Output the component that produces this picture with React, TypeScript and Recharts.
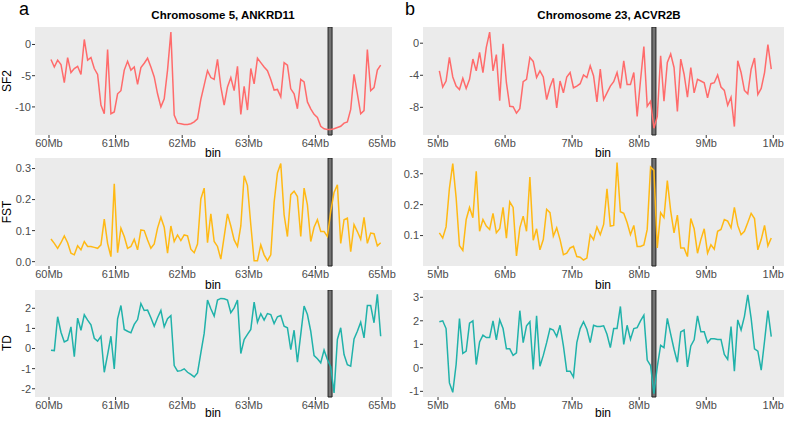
import { CartesianGrid, Line, LineChart, ReferenceArea, XAxis, YAxis } from "recharts";

// bins are 50 kb windows
const binStep = 0.05;
const leftStart = 60.03;
const rightStart = 5.02;

const leftSF2 = [
  -2.4, -3.6, -2.5, -3.2, -6.1, -2.1, -4.5, -3.85, -3.5, -4.8,
  0.8, -2.5, -2.1, -3.85, -4.8, -9.7, -11.1, -0.8, -11.1, -10.8,
  -7.9, -7.4, -4.1, -2.7, -4.1, -3.6, -6.4, -3.7, -3.0, -2.2,
  -3.6, -5.2, -7.9, -10.0, -8.7, -4.1, 2.0, -11.3, -12.6, -12.7,
  -12.8, -12.8, -12.7, -12.4, -11.9, -8.8, -6.5, -4.2, -5.3, -5.6,
  -2.4, -6.8, -9.7, -6.8, -5.3, -7.4, -3.5, -11.2, -6.7, -10.5,
  -3.85, -6.3, -2.2, -2.9, -3.6, -4.2, -5.6, -7.3, -7.2, -8.4,
  -2.9, -3.3, -7.1, -7.9, -10.3, -5.6, -6.0, -9.2, -10.3, -11.2,
  -11.7, -13.1, -13.5, -13.6, -13.6, -13.5, -13.3, -13.1, -12.6, -12.4,
  -10.4, -4.8, -7.9, -11.1, -10.6, -0.8, -7.4, -6.9, -4.1, -3.3,
];

const leftFST = [
  0.073, 0.059, 0.043, 0.061, 0.083, 0.061, 0.027, 0.022, 0.051, 0.038,
  0.065, 0.049, 0.049, 0.046, 0.043, 0.054, 0.137, 0.059, 0.016, 0.251,
  0.029, 0.108, 0.081, 0.043, 0.049, 0.072, 0.038, 0.102, 0.1, 0.07,
  0.043, 0.057, 0.108, 0.143, 0.111, 0.027, 0.115, 0.065, 0.086, 0.068,
  0.086, 0.083, 0.04, 0.029, 0.057, 0.202, 0.237, 0.061, 0.154, 0.065,
  0.049, 0.008, 0.081, 0.154, 0.115, 0.07, 0.049, 0.115, 0.277, 0.245,
  0.119, 0.003, 0.003, 0.054, 0.022, 0.003, 0.022, 0.191, 0.286, 0.316,
  0.151, 0.081, 0.216, 0.227, 0.21, 0.081, 0.237, 0.183, 0.065, 0.111,
  0.135, 0.097, 0.097, 0.081, 0.162, 0.223, 0.248, 0.059, 0.135, 0.14,
  0.032, 0.119, 0.097, 0.072, 0.143, 0.059, 0.092, 0.09, 0.051, 0.061,
];

const leftTD = [
  -0.08, -0.1, 1.58, 0.81, 0.33, 0.41, 1.08, -0.41, 1.51, 0.91,
  1.68, 1.41, 1.18, 0.51, 0.37, 0.61, -1.18, -0.3, 0.61, -1.01,
  1.48, 2.14, 0.95, 0.86, 0.78, 1.2, 1.44, 2.24, 1.89, 1.91,
  1.53, 1.11, 1.53, 1.89, 1.08, 1.48, 1.64, -0.85, -1.13, -1.1,
  -1.01, -1.18, -1.29, -1.41, -1.21, -0.22, 0.75, 2.41, 1.98, 1.61,
  2.41, 2.49, 2.47, 2.41, 1.78, 2.02, 2.41, -0.25, 0.45, 0.7,
  0.95, 2.31, 1.31, 1.73, 1.41, 1.74, 1.69, 1.24, 1.58, 1.64,
  1.11, 1.03, -0.05, 0.91, -0.68, 0.7, 2.11, 1.69, 0.86, -0.35,
  -0.51, -0.71, -0.08, -0.55, -0.91, -2.21, 0.45, 1.03, -0.3, -0.8,
  -0.88, 0.48, 0.86, 1.31, 0.53, 2.14, 2.14, 1.28, 2.69, 0.61,
];

const rightSF2 = [
  -3.45, -5.47, -4.72, -1.77, -4.21, -5.35, -5.77, -4.38, -5.64, -4.51,
  -1.98, -3.45, -1.14, -3.66, -0.51, 1.39, -3.45, -1.43, -7.16, -0.08,
  -4.93, -7.87, -7.92, -8.72, -8.17, -4.8, -4.51, -1.77, -2.27, -4.29,
  -3.45, -4.21, -7.03, -5.47, -4.38, -8.08, -4.72, -6.19, -4.21, -3.66,
  -5.56, -5.35, -5.05, -3.96, -4.29, -2.82, -4.08, -7.33, -3.24, -7.03,
  -6.19, -5.35, -4.8, -3.66, -5.64, -2.19, -5.14, -5.14, -3.66, -9.14,
  -4.63, -0.42, -7.87, -7.24, -10.6, -9.14, -1.56, -7.24, -2.4, -1.35,
  -3.03, -8.51, -1.98, -3.87, -6.74, -3.03, -6.19, -4.51, -4.72, -4.93,
  -6.82, -5.05, -4.93, -3.96, -5.47, -5.89, -7.75, -6.74, -10.4, -2.19,
  -3.66, -5.89, -6.32, -3.24, -1.85, -6.4, -5.64, -3.66, -0.17, -3.24,
];

const rightFST = [
  0.109, 0.092, 0.128, 0.253, 0.333, 0.223, 0.067, 0.052, 0.152, 0.191,
  0.158, 0.308, 0.114, 0.152, 0.131, 0.12, 0.172, 0.109, 0.122, 0.191,
  0.092, 0.209, 0.191, 0.034, 0.125, 0.163, 0.114, 0.289, 0.085, 0.122,
  0.054, 0.087, 0.185, 0.174, 0.098, 0.125, 0.087, 0.038, 0.043, 0.06,
  0.065, 0.032, 0.03, 0.021, 0.027, 0.103, 0.087, 0.128, 0.103, 0.136,
  0.251, 0.131, 0.133, 0.336, 0.177, 0.172, 0.142, 0.103, 0.133, 0.065,
  0.065, 0.07, 0.12, 0.322, 0.311, 0.06, 0.174, 0.158, 0.278, 0.18,
  0.109, 0.166, 0.06, 0.06, 0.032, 0.155, 0.122, 0.043, 0.087, 0.122,
  0.043, 0.07, 0.056, 0.114, 0.12, 0.152, 0.147, 0.125, 0.191, 0.133,
  0.103, 0.114, 0.142, 0.172, 0.155, 0.054, 0.087, 0.133, 0.067, 0.092,
];

const rightTD = [
  1.96, 2.0, 1.67, -0.64, -1.04, 0.14, 2.1, 0.61, 0.71, 1.9,
  2.0, 0.14, 1.1, 1.39, 1.29, 1.29, 2.0, 1.19, 2.04, 1.67,
  0.81, 0.81, 0.53, 0.64, 2.43, 1.07, 1.79, 1.96, -0.07, 2.21,
  0.07, 0.53, 1.07, 1.67, 1.61, 1.33, 1.81, 0.93, -0.14, -0.14,
  -0.39, 1.07, 1.67, 1.96, 1.64, 1.07, 1.81, 1.76, 1.76, 1.79,
  1.43, 0.86, 1.67, 1.67, 2.61, 1.0, 1.81, 1.21, 1.67, 1.71,
  2.0, 2.24, 0.33, 0.1, -1.1, 0.04, 0.96, 0.86, 2.1, 1.43,
  0.79, 0.24, 1.53, 1.61, 0.04, 0.93, 1.19, 2.21, 1.53, 1.53,
  1.07, 1.24, 1.24, 1.21, 1.21, 0.57, 0.36, 1.76, -0.14, 2.04,
  1.61, 2.19, 3.1, 2.1, 0.81, 0.71, -0.1, 1.14, 2.43, 1.33,
];

const leftTicks = [60, 61, 62, 63, 64, 65];
const leftTickLabels = ["60Mb", "61Mb", "62Mb", "63Mb", "64Mb", "65Mb"];
const rightTicks = [5, 6, 7, 8, 9, 10];
const rightTickLabels = ["5Mb", "6Mb", "7Mb", "8Mb", "9Mb", "1Mb"];

const leftMarker = [64.19, 64.25];
const rightMarker = [8.19, 8.25];

const RED = "#FF6B6B";
const AMBER = "#FFB914";
const TEAL = "#20B2AA";
const FONT = "'Liberation Sans', Arial, sans-serif";

function toRows(start: number, values: number[]) {
  return values.map((v, i) => ({ pos: start + i * binStep, v }));
}

interface PanelProps {
  left: number;
  top: number;
  width: number;
  plotHeight: number;
  yWidth: number;
  rightPad: number;
  values: number[];
  start: number;
  color: string;
  xDomain: [number, number];
  xTicks: number[];
  xLabels: string[];
  yDomain: [number, number];
  yTicks: number[];
  yFmt?: (v: number) => string;
  marker: number[];
}

function Panel(p: PanelProps) {
  const tickStyle = { fill: "#4D4D4D", fontSize: 11, fontFamily: FONT };
  return (
    <div style={{ position: "absolute", left: p.left, top: p.top }}>
      <LineChart
        width={p.width}
        height={p.plotHeight + 22}
        data={toRows(p.start, p.values)}
        margin={{ top: 0, right: p.rightPad, bottom: 0, left: 0 }}
      >
        <CartesianGrid fill="#EBEBEB" stroke="none" />
        <XAxis
          dataKey="pos"
          type="number"
          domain={p.xDomain}
          ticks={p.xTicks}
          tickFormatter={(v: number) => p.xLabels[p.xTicks.indexOf(v)] ?? ""}
          axisLine={false}
          tickLine={{ stroke: "#333" }}
          tickSize={3}
          tickMargin={1}
          tick={tickStyle}
          height={22}
          allowDataOverflow
          interval={0}
        />
        <YAxis
          type="number"
          domain={p.yDomain}
          ticks={p.yTicks}
          tickFormatter={p.yFmt}
          axisLine={false}
          tickLine={{ stroke: "#333" }}
          tickSize={3}
          tickMargin={1}
          tick={tickStyle}
          width={p.yWidth}
          allowDataOverflow
          interval={0}
        />
        <Line
          type="linear"
          dataKey="v"
          stroke={p.color}
          strokeWidth={1.5}
          dot={false}
          isAnimationActive={false}
        />
        <ReferenceArea
          x1={p.marker[0]}
          x2={p.marker[1]}
          fill="#737373"
          fillOpacity={1}
          stroke="#222"
          strokeWidth={1}
        />
      </LineChart>
    </div>
  );
}

const txt = (extra: React.CSSProperties): React.CSSProperties => ({
  position: "absolute",
  fontFamily: FONT,
  whiteSpace: "nowrap",
  lineHeight: 1,
  ...extra,
});

export default function App() {
  const leftX: [number, number] = [59.79, 65.15];
  const rightX: [number, number] = [4.776, 10.16];
  const fst = (v: number) => v.toFixed(1);
  // left charts are a bit wider than their plot so the last tick label fits
  const L = { left: 0, width: 402, yWidth: 35, rightPad: 10, start: leftStart, xDomain: leftX, xTicks: leftTicks, xLabels: leftTickLabels, marker: leftMarker };
  const R = { left: 393, width: 394, yWidth: 30, rightPad: 3, start: rightStart, xDomain: rightX, xTicks: rightTicks, xLabels: rightTickLabels, marker: rightMarker };
  return (
    <div style={{ position: "absolute", left: 0, top: 0, width: 787, height: 421, background: "#fff", overflow: "hidden" }}>
      <div style={txt({ left: 19, top: 0, fontSize: 18 })}>a</div>
      <div style={txt({ left: 405, top: 0, fontSize: 18 })}>b</div>
      <div style={txt({ left: 223, top: 10, fontSize: 11.5, fontWeight: "bold", transform: "translateX(-50%)" })}>
        Chromosome 5, ANKRD11
      </div>
      <div style={txt({ left: 609, top: 10, fontSize: 11.5, fontWeight: "bold", transform: "translateX(-50%)" })}>
        Chromosome 23, ACVR2B
      </div>

      <Panel {...L} top={27} plotHeight={108} values={leftSF2} color={RED} yDomain={[-14.5, 2.8]} yTicks={[-10, -5, 0]} />
      <Panel {...L} top={158} plotHeight={108} values={leftFST} color={AMBER} yDomain={[-0.014, 0.334]} yTicks={[0, 0.1, 0.2, 0.3]} yFmt={fst} />
      <Panel {...L} top={290} plotHeight={107} values={leftTD} color={TEAL} yDomain={[-2.41, 2.91]} yTicks={[-2, -1, 0, 1, 2]} />

      <Panel {...R} top={27} plotHeight={108} values={rightSF2} color={RED} yDomain={[-11.45, 2.02]} yTicks={[-8, -4, 0]} />
      <Panel {...R} top={158} plotHeight={108} values={rightFST} color={AMBER} yDomain={[0.0016, 0.351]} yTicks={[0.1, 0.2, 0.3]} yFmt={fst} />
      <Panel {...R} top={290} plotHeight={107} values={rightTD} color={TEAL} yDomain={[-1.24, 3.31]} yTicks={[-1, 0, 1, 2, 3]} />

      {[
        { t: "SF2", y: 81 },
        { t: "FST", y: 212 },
        { t: "TD", y: 343 },
      ].map((a) => (
        <div key={a.t} style={txt({ left: 7, top: a.y, fontSize: 12, transform: "translate(-50%, -50%) rotate(-90deg)" })}>
          {a.t}
        </div>
      ))}
      {[147, 279, 407].map((y) => (
        <div key={y}>
          <div style={txt({ left: 213, top: y, fontSize: 12, transform: "translateX(-50%)" })}>bin</div>
          <div style={txt({ left: 603, top: y, fontSize: 12, transform: "translateX(-50%)" })}>bin</div>
        </div>
      ))}
    </div>
  );
}
